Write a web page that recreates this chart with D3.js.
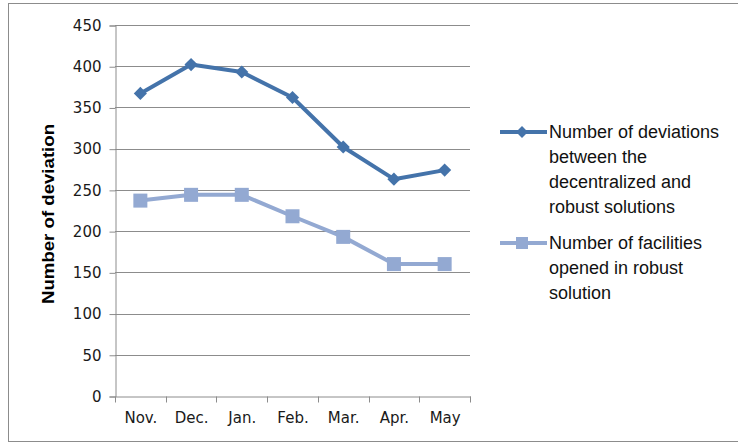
<!DOCTYPE html>
<html>
<head>
<meta charset="utf-8">
<script src="https://cdn.jsdelivr.net/npm/d3@7"></script>
<style>
  body { margin: 0; background: #fff; }
  svg { display: block; }
</style>
</head>
<body>
<svg id="chart" width="738" height="448"></svg>
<script>
const months = ["Nov.", "Dec.", "Jan.", "Feb.", "Mar.", "Apr.", "May"];
const deviations = [367, 402, 393, 362, 302, 263, 274];
const facilities = [237, 244, 244, 218, 193, 160, 160];
const yTicks = [0, 50, 100, 150, 200, 250, 300, 350, 400, 450];
const legendLabels = [
    ["Number of deviations", "between the", "decentralized and", "robust solutions"],
    ["Number of facilities", "opened in robust", "solution"]
];

const svg = d3.select("#chart");

// outer chart border
svg.append("rect")
    .attr("x", 8.5).attr("y", 3.5)
    .attr("width", 740).attr("height", 438)
    .attr("fill", "none")
    .attr("stroke", "#8c8c8c");

const x = d3.scaleBand().domain(months).range([115, 470]);
const y = d3.scaleLinear().domain([0, 450]).range([396, 25]);

// gridlines
svg.append("g")
    .selectAll("line")
    .data(yTicks.filter(d => d > 0))
    .join("line")
    .attr("x1", 115).attr("x2", 470)
    .attr("y1", d => Math.round(y(d)) + 0.5)
    .attr("y2", d => Math.round(y(d)) + 0.5)
    .attr("stroke", "#8c8c8c");

const yAxis = svg.append("g")
    .attr("transform", "translate(115.5,0.5)")
    .call(d3.axisLeft(y).tickValues(yTicks).tickSize(6).tickPadding(8));

const xAxis = svg.append("g")
    .attr("transform", "translate(0.5,396.5)")
    .call(d3.axisBottom(x).tickSize(0).tickPadding(16));

// tick marks between categories
xAxis.append("g")
    .selectAll("line")
    .data(months.map(m => x(m)).concat([x.range()[1]]))
    .join("line")
    .attr("x1", d => Math.round(d)).attr("x2", d => Math.round(d))
    .attr("y1", 0).attr("y2", 6)
    .attr("stroke", "#8c8c8c");

[yAxis, xAxis].forEach(a => {
    a.select(".domain").attr("stroke", "#8c8c8c");
    a.selectAll(".tick line").attr("stroke", "#8c8c8c");
    a.selectAll("text")
        .attr("font-family", "DejaVu Sans")
        .attr("font-size", 15)
        .attr("fill", "#1a1a1a");
});

svg.append("text")
    .attr("transform", "translate(54,214) rotate(-90)")
    .attr("text-anchor", "middle")
    .attr("font-family", "Liberation Sans")
    .attr("font-weight", "bold")
    .attr("font-size", 17)
    .attr("textLength", 180)
    .attr("lengthAdjust", "spacingAndGlyphs")
    .attr("fill", "#000")
    .text("Number of deviation");

const line = d3.line()
    .x((d, i) => x(months[i]) + x.bandwidth() / 2)
    .y(d => y(d));

const dark = "#4473aa";
const light = "#93a9d2";

svg.append("path")
    .datum(deviations)
    .attr("d", line)
    .attr("fill", "none")
    .attr("stroke", dark)
    .attr("stroke-width", 4)
    .attr("stroke-linejoin", "round");

svg.append("g")
    .selectAll("path")
    .data(deviations)
    .join("path")
    .attr("d", d3.symbol(d3.symbolDiamond2, 110))
    .attr("transform", (d, i) => `translate(${x(months[i]) + x.bandwidth() / 2},${y(d)})`)
    .attr("fill", dark);

svg.append("path")
    .datum(facilities)
    .attr("d", line)
    .attr("fill", "none")
    .attr("stroke", light)
    .attr("stroke-width", 4)
    .attr("stroke-linejoin", "round");

svg.append("g")
    .selectAll("rect")
    .data(facilities)
    .join("rect")
    .attr("x", (d, i) => x(months[i]) + x.bandwidth() / 2 - 7)
    .attr("y", d => y(d) - 7)
    .attr("width", 14).attr("height", 14)
    .attr("fill", light);

// legend
const legendTops = [132, 243];
const legend = svg.append("g");
legendLabels.forEach((lines, k) => {
    const cy = legendTops[k];
    const color = k === 0 ? dark : light;
    legend.append("line")
        .attr("x1", 500).attr("x2", 547)
        .attr("y1", cy).attr("y2", cy)
        .attr("stroke", color)
        .attr("stroke-width", 4);
    if (k === 0) {
        legend.append("path")
            .attr("d", d3.symbol(d3.symbolDiamond2, 90))
            .attr("transform", `translate(522,${cy})`)
            .attr("fill", color);
    } else {
        legend.append("rect")
            .attr("x", 516).attr("y", cy - 6)
            .attr("width", 12).attr("height", 12)
            .attr("fill", color);
    }
    lines.forEach((t, j) => {
        legend.append("text")
            .attr("x", 549)
            .attr("y", cy + j * 25)
            .attr("dy", "0.35em")
            .attr("font-family", "Liberation Sans")
            .attr("font-size", 18)
            .attr("fill", "#111")
            .text(t);
    });
});
</script>
</body>
</html>
